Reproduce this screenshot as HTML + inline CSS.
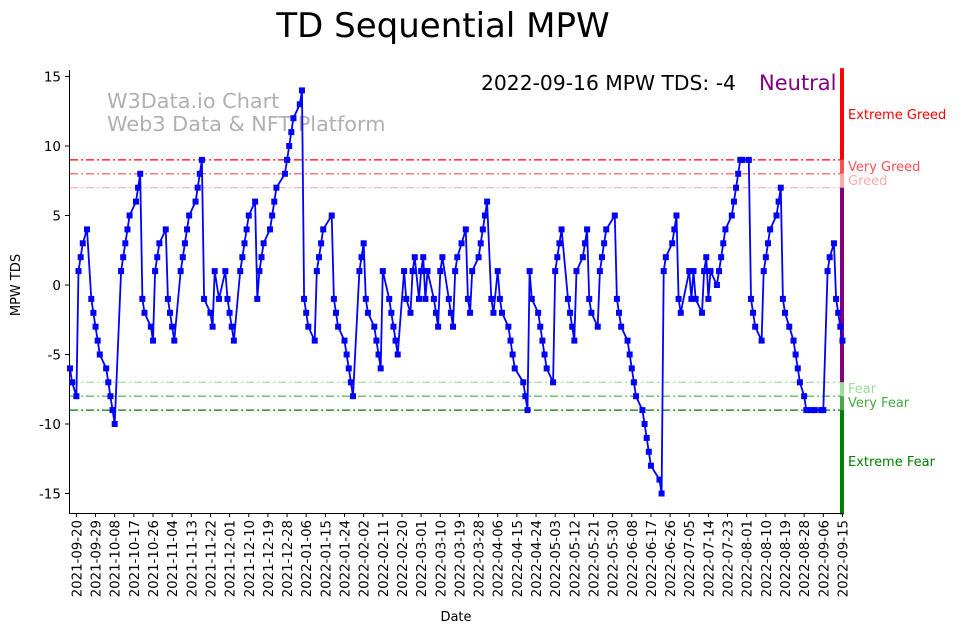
<!DOCTYPE html>
<html><head><meta charset="utf-8"><style>
body{margin:0;background:#fff;}
svg{font-family:"DejaVu Sans","Liberation Sans",sans-serif;}
</style></head><body>
<svg id="chart" width="962" height="633" viewBox="0 0 962 633" xmlns="http://www.w3.org/2000/svg">
<text x="443" y="37" font-size="34" text-anchor="middle" fill="#000">TD Sequential MPW</text>
<text x="481" y="90" font-size="20.3" fill="#000">2022-09-16 MPW TDS: -4</text>
<text x="759" y="90" font-size="21" fill="#800080">Neutral</text>
<text x="107" y="108" font-size="20.8" fill="#b0b0b0">W3Data.io Chart</text>
<text x="107" y="131" font-size="20.8" fill="#b0b0b0">Web3 Data &amp; NFT Platform</text>
<text transform="translate(20,285) rotate(-90)" font-size="13" text-anchor="middle">MPW TDS</text>
<text x="456" y="621" font-size="13" text-anchor="middle">Date</text>
<g id="grid"></g><g id="bands"></g><g id="axes"></g><g id="series"></g>
</svg>
<script>
const tickLabels=["2021-09-20","2021-09-29","2021-10-08","2021-10-17","2021-10-26","2021-11-04","2021-11-13","2021-11-22","2021-12-01","2021-12-10","2021-12-19","2021-12-28","2022-01-06","2022-01-15","2022-01-24","2022-02-02","2022-02-11","2022-02-20","2022-03-01","2022-03-10","2022-03-19","2022-03-28","2022-04-06","2022-04-15","2022-04-24","2022-05-03","2022-05-12","2022-05-21","2022-05-30","2022-06-08","2022-06-17","2022-06-26","2022-07-05","2022-07-14","2022-07-23","2022-08-01","2022-08-10","2022-08-19","2022-08-28","2022-09-06","2022-09-15"];
const yTicks=[15,10,5,0,-5,-10,-15];
const days=[0,1,3,4,5,6,8,10,11,12,13,14,17,18,19,20,21,24,25,26,27,28,31,32,33,34,35,38,39,40,41,42,45,46,47,48,49,52,53,54,55,56,59,60,61,62,63,66,67,68,70,73,74,75,76,77,80,81,82,83,84,87,88,89,90,91,94,95,96,97,101,102,103,104,105,108,109,110,111,112,115,116,117,118,119,123,124,125,126,129,130,131,132,133,136,137,138,139,140,143,144,145,146,147,150,151,152,153,154,157,158,160,161,162,164,165,166,167,168,171,172,173,174,175,178,179,180,181,182,184,186,187,188,189,192,193,194,195,196,198,199,201,202,203,206,207,208,209,213,214,215,216,217,220,221,222,223,224,227,228,229,230,231,234,235,236,237,238,241,242,243,244,245,248,249,250,251,252,256,257,258,259,262,263,264,265,266,269,270,271,272,273,277,278,279,280,283,284,285,286,287,291,292,293,294,297,298,299,300,301,304,305,306,307,308,311,312,313,314,315,316,319,320,321,322,325,326,327,328,329,332,333,334,335,336,338,340,341,342,343,345,346,348,350,353,354,356,357,359,360,361,362,363];
const values=[-6,-7,-8,1,2,3,4,-1,-2,-3,-4,-5,-6,-7,-8,-9,-10,1,2,3,4,5,6,7,8,-1,-2,-3,-4,1,2,3,4,-1,-2,-3,-4,1,2,3,4,5,6,7,8,9,-1,-2,-3,1,-1,1,-1,-2,-3,-4,1,2,3,4,5,6,-1,1,2,3,4,5,6,7,8,9,10,11,12,13,14,-1,-2,-3,-4,1,2,3,4,5,-1,-2,-3,-4,-5,-6,-7,-8,1,2,3,-1,-2,-3,-4,-5,-6,1,-1,-2,-3,-4,-5,1,-1,-2,1,2,-1,1,2,-1,1,-1,-2,-3,1,2,-1,-2,-3,1,2,3,4,-1,-2,1,2,3,4,5,6,-1,-2,1,-1,-2,-3,-4,-5,-6,-7,-8,-9,1,-1,-2,-3,-4,-5,-6,-7,1,2,3,4,-1,-2,-3,-4,1,2,3,4,-1,-2,-3,1,2,3,4,5,-1,-2,-3,-4,-5,-6,-7,-8,-9,-10,-11,-12,-13,-14,-15,1,2,3,4,5,-1,-2,1,-1,1,-1,-2,1,2,-1,1,0,1,2,3,4,5,6,7,8,9,9,9,-1,-2,-3,-4,1,2,3,4,5,6,7,-1,-2,-3,-4,-5,-6,-7,-8,-9,-9,-9,-9,-9,1,2,3,-1,-2,-3,-4];
const levels=[9,8,7,-7,-8,-9];
const levelColors=["#ff0000","#ff5050","#ffaaaa","#99dd99","#44aa44","#008000"];
const bandNames=["Extreme Greed","Very Greed","Greed","Fear","Very Fear","Extreme Fear"];

const NS="http://www.w3.org/2000/svg";
const X0=70,X1=842,Ytop=70,Ybot=513,DAYPX=2.128;
const xs=d=>X0+d*DAYPX;
const ys=v=>285-v*13.9;
function mk(tag,attrs,parent){const e=document.createElementNS(NS,tag);for(const k in attrs)e.setAttribute(k,attrs[k]);parent.appendChild(e);return e;}
const grid=document.getElementById('grid'),bands=document.getElementById('bands'),axes=document.getElementById('axes'),series=document.getElementById('series');

levels.forEach((lv,i)=>{
  const l=mk('line',{x1:X0,x2:X1,y1:ys(lv),y2:ys(lv),stroke:levelColors[i],'stroke-width':1.2,'stroke-dasharray':'8,3,2,3'},grid);
  
  
});
const segs=[[15.6,9,0],[9,8,1],[8,7,2],[7,-7,-1],[-7,-8,3],[-8,-9,4],[-9,-16.5,5]];
segs.forEach(s=>{
  const r=mk('rect',{x:X1-2,y:ys(s[0]),width:4,height:ys(s[1])-ys(s[0]),fill:s[2]<0?'#800080':levelColors[s[2]]},bands);
  
  
});
const bandLabelY=[114,166,180,388,402,461];
bandNames.forEach((n,i)=>{
  const t=mk('text',{x:848,y:bandLabelY[i]+5,'font-size':13,fill:levelColors[i]},bands);t.textContent=n;
  
  
});
const la=mk('line',{x1:69.5,x2:69.5,y1:Ytop,y2:Ybot,stroke:'#000','stroke-width':1},axes);

const ba=mk('line',{x1:69,x2:X1,y1:Ybot+0.5,y2:Ybot+0.5,stroke:'#000','stroke-width':1},axes);

yTicks.forEach(v=>{
  mk('line',{x1:65,x2:69,y1:ys(v),y2:ys(v),stroke:'#000'},axes);
  const t=mk('text',{x:61,y:ys(v)+5,'font-size':13.5,'text-anchor':'end'},axes);t.textContent=v;
  
  
});
tickLabels.forEach((lab,i)=>{
  const x=xs(3+9*i);
  mk('line',{x1:x,x2:x,y1:Ybot,y2:Ybot+4,stroke:'#000'},axes);
  const t=mk('text',{transform:`translate(${x+5},${Ybot+7}) rotate(-90)`,'font-size':13.3,'text-anchor':'end'},axes);t.textContent=lab;
  
  
});
const pts=days.map((d,i)=>xs(d).toFixed(1)+','+ys(values[i]).toFixed(1)).join(' ');
const pl=mk('polyline',{points:pts,fill:'none',stroke:'#0000ff','stroke-width':1.8},series);


days.forEach((d,i)=>{
  const r=mk('rect',{x:xs(d)-3,y:ys(values[i])-3,width:6,height:6,fill:'#0000ff'},series);
  
  
});
</script>
</body></html>
